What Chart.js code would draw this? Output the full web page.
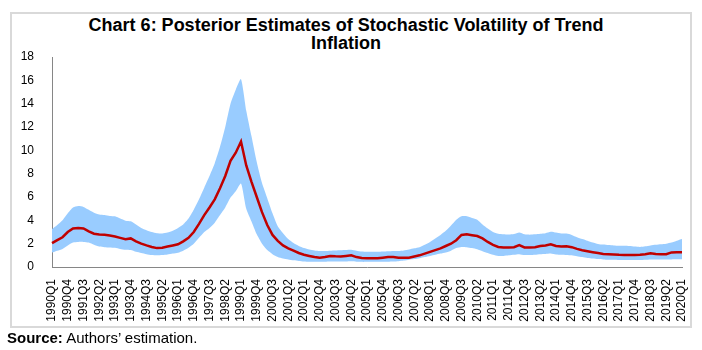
<!DOCTYPE html>
<html>
<head>
<meta charset="utf-8">
<script src="https://cdn.jsdelivr.net/npm/chart.js@4.4.1/dist/chart.umd.min.js"></script>
<style>
    html, body { margin: 0; padding: 0; background: #fff; }
    body { width: 702px; height: 350px; position: relative; overflow: hidden; font-family: "Liberation Sans", Arial, sans-serif; }
    #frame { position: absolute; left: 10px; top: 12px; width: 678px; height: 312px; border: 2px solid #d9d9d9; }
    #title { position: absolute; left: 0; top: 17px; width: 692px; text-align: center; font-weight: bold; font-size: 18px; line-height: 17.5px; color: #000; }
    #source { position: absolute; left: 7px; top: 329px; font-size: 15px; line-height: 17px; color: #000; }
    #wrap { position: absolute; left: 0; top: 0; width: 702px; height: 350px; }
</style>
</head>
<body>
<div id="frame"></div>
<div id="title">Chart 6: Posterior Estimates of Stochastic Volatility of Trend<br>Inflation</div>
<div id="wrap"><canvas id="chart"></canvas></div>
<div id="source"><b>Source:</b> Authors’ estimation.</div>
<script>
(function () {
    const startYear = 1990;
    const endYear = 2020;
    const quarters = [];
    for (let y = startYear; y <= endYear; y++) {
        for (let q = 1; q <= 4; q++) {
            if (y === endYear && q > 1) break;
            quarters.push(y + 'Q' + q);
        }
    }

    // posterior median
    const median = [
        2.04, 2.3, 2.55, 3.0, 3.3, 3.35, 3.3, 3.05, 2.85, 2.78,
        2.76, 2.7, 2.62, 2.5, 2.39, 2.45, 2.2, 2.0, 1.85, 1.72,
        1.62, 1.65, 1.75, 1.85, 1.95, 2.2, 2.5, 3.0, 3.7, 4.45,
        5.1, 5.8, 6.75, 7.8, 9.1, 9.8, 10.75, 8.7, 7.3, 6.0,
        4.7, 3.6, 2.75, 2.24, 1.85, 1.6, 1.4, 1.2, 1.05, 0.95,
        0.85, 0.8, 0.85, 0.95, 0.92, 0.9, 0.95, 1.0, 0.85, 0.78,
        0.75, 0.75, 0.75, 0.8, 0.85, 0.85, 0.8, 0.8, 0.8, 0.9,
        1.0, 1.15, 1.3, 1.45, 1.6, 1.8, 2.0, 2.3, 2.75, 2.8,
        2.72, 2.65, 2.45, 2.15, 1.9, 1.72, 1.68, 1.67, 1.7, 1.87,
        1.68, 1.67, 1.7, 1.8, 1.85, 1.95, 1.8, 1.75, 1.78, 1.7,
        1.55, 1.44, 1.35, 1.27, 1.2, 1.12, 1.1, 1.08, 1.05, 1.03,
        1.03, 1.03, 1.05, 1.1, 1.18, 1.12, 1.1, 1.09, 1.25, 1.27,
        1.26
    ];

    // upper bound of the credible band
    const upper = [
        3.25, 3.6, 4.0, 4.6, 5.1, 5.22, 5.15, 4.9, 4.65, 4.5,
        4.45, 4.38, 4.34, 4.15, 3.97, 3.92, 3.65, 3.35, 3.15, 3.0,
        2.9, 2.88, 2.95, 3.1, 3.35, 3.65, 4.15, 4.9, 5.8, 6.8,
        7.8, 8.9, 10.3, 12.0, 14.0, 15.2, 16.1, 13.4, 11.2, 9.0,
        7.2, 5.9, 4.6, 3.5, 2.9, 2.4, 2.05, 1.8, 1.62, 1.5,
        1.42, 1.38, 1.38, 1.4, 1.42, 1.44, 1.46, 1.48, 1.4, 1.32,
        1.3, 1.3, 1.3, 1.32, 1.35, 1.38, 1.38, 1.42, 1.5, 1.6,
        1.7, 1.9, 2.15, 2.45, 2.75, 3.1, 3.55, 4.05, 4.35, 4.35,
        4.2, 4.05, 3.65, 3.3, 3.0, 2.85, 2.8, 2.78, 2.82, 2.95,
        2.8, 2.77, 2.8, 2.85, 2.9, 3.02, 2.95, 2.88, 2.87, 2.75,
        2.55, 2.4, 2.25, 2.1, 1.98, 1.92, 1.88, 1.85, 1.83, 1.82,
        1.8, 1.75, 1.72, 1.78, 1.85, 1.9, 1.95, 2.0, 2.1, 2.25,
        2.4
    ];

    // lower bound of the credible band
    const lower = [
        1.25, 1.4, 1.55, 1.85, 2.1, 2.15, 2.15, 2.1, 1.9, 1.75,
        1.7, 1.68, 1.65, 1.55, 1.47, 1.45, 1.3, 1.2, 1.1, 1.02,
        1.0, 1.02, 1.08, 1.15, 1.22, 1.4, 1.65, 2.0, 2.5, 3.0,
        3.35, 3.8, 4.45, 5.1, 5.95, 6.5, 7.15, 5.0, 3.9, 2.8,
        2.0, 1.45, 1.1, 0.85, 0.72, 0.65, 0.58, 0.52, 0.48, 0.46,
        0.45, 0.45, 0.46, 0.48, 0.48, 0.48, 0.48, 0.5, 0.46, 0.44,
        0.44, 0.44, 0.44, 0.45, 0.46, 0.48, 0.5, 0.55, 0.62, 0.68,
        0.75, 0.85, 0.95, 1.05, 1.15, 1.25, 1.4, 1.62, 1.72, 1.7,
        1.62, 1.52, 1.35, 1.2, 1.05, 0.95, 0.95, 1.0, 1.05, 1.1,
        1.02, 1.03, 1.05, 1.1, 1.12, 1.15, 1.08, 1.05, 1.03, 1.0,
        0.92, 0.85, 0.78, 0.72, 0.68, 0.65, 0.63, 0.62, 0.6, 0.6,
        0.6, 0.6, 0.6, 0.62, 0.65, 0.65, 0.65, 0.64, 0.65, 0.66,
        0.66
    ];

    const yMax = 18;
    const yStep = 2;
    const labelEvery = 3;

    const axisColor = '#868686';
    const font = { family: '"Liberation Sans", Arial, sans-serif', size: 12 };

    new Chart(document.getElementById('chart'), {
        type: 'line',
        data: {
            labels: quarters,
            datasets: [
                {
                    label: 'Median',
                    data: median,
                    borderColor: '#c00000',
                    borderWidth: 2.5,
                    pointRadius: 0,
                    tension: 0,
                    fill: false
                },
                {
                    label: 'Upper',
                    data: upper,
                    borderWidth: 0,
                    borderColor: 'rgba(0,0,0,0)',
                    backgroundColor: '#99ccff',
                    pointRadius: 0,
                    tension: 0.2,
                    fill: '+1'
                },
                {
                    label: 'Lower',
                    data: lower,
                    borderWidth: 0,
                    borderColor: 'rgba(0,0,0,0)',
                    pointRadius: 0,
                    tension: 0.2,
                    fill: false
                }
            ]
        },
        options: {
            responsive: true,
            maintainAspectRatio: false,
            animation: false,
            layout: {
                padding: { left: 0, right: 20, top: 57, bottom: 0 }
            },
            plugins: {
                legend: { display: false },
                tooltip: { enabled: false }
            },
            scales: {
                x: {
                    offset: false,
                    grid: { display: false },
                    border: { color: axisColor, width: 1 },
                    ticks: {
                        autoSkip: false,
                        maxRotation: 90,
                        minRotation: 90,
                        padding: 4,
                        color: '#000',
                        font,
                        callback: function (value, index) {
                            return index % labelEvery === 0 ? this.getLabelForValue(value) : '';
                        }
                    },
                    afterFit: (scale) => { scale.height = 83; }
                },
                y: {
                    min: 0,
                    max: yMax,
                    grid: { display: false },
                    border: { color: axisColor, width: 1 },
                    ticks: { stepSize: yStep, padding: 10, color: '#000', font },
                    afterFit: (scale) => { scale.width = 52; }
                }
            }
        }
    });
})();
</script>
</body>
</html>
